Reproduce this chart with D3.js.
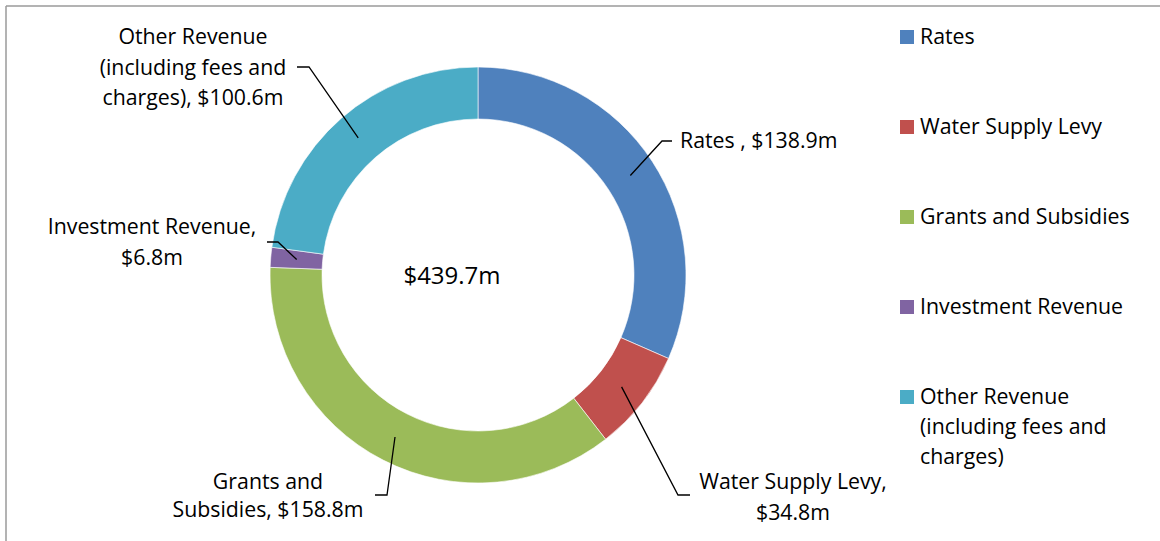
<!DOCTYPE html>
<html><head><meta charset="utf-8">
<script src="https://cdn.jsdelivr.net/npm/d3@7"></script>
<style>
html,body{margin:0;padding:0;background:#fff;}
svg text{font-family:"Open Sans",Lato,sans-serif;fill:#000;}
</style></head>
<body><svg id="c" width="1160" height="541"></svg>
<script>
const categories = ["Rates", "Water Supply Levy", "Grants and Subsidies", "Investment Revenue", "Other Revenue (including fees and charges)"];
const values = [138.9, 34.8, 158.8, 6.8, 100.6];
const colors = ["#4F81BD", "#C0504D", "#9BBB59", "#8064A2", "#4BACC6"];
const sliceLabels = [
  ["Rates , $138.9m"],
  ["Water Supply Levy,", "$34.8m"],
  ["Grants and", "Subsidies, $158.8m"],
  ["Investment Revenue,", "$6.8m"],
  ["Other Revenue", "(including fees and", "charges), $100.6m"]
];
const legendLabels = [["Rates"], ["Water Supply Levy"], ["Grants and Subsidies"], ["Investment Revenue"], ["Other Revenue", "(including fees and", "charges)"]];
const totalLabel = "$439.7m";

const svg = d3.select("#c");
svg.append("line").attr("x1",6).attr("y1",6).attr("x2",1160).attr("y2",6).attr("stroke","#9a9a9a").attr("stroke-width",1.5);
svg.append("line").attr("x1",6).attr("y1",6).attr("x2",6).attr("y2",541).attr("stroke","#9a9a9a").attr("stroke-width",1.5);

const cx = 478, cy = 275, outerR = 208, innerR = 156;
const g = svg.append("g").attr("transform", `translate(${cx},${cy})`);
const pie = d3.pie().sort(null).value(d => d)(values);
const arc = d3.arc().innerRadius(innerR).outerRadius(outerR);
g.selectAll("path").data(pie).join("path")
  .attr("d", arc).attr("fill", (d,i) => colors[i])
  .attr("stroke", "#fff").attr("stroke-width", 0.6);

const labelPos = [
  {tx: 680, ty: 141, anchor: "start", elbow: [662, 141], end: [672, 141]},
  {tx: 793, ty: 482, anchor: "middle", elbow: [678, 495], end: [690, 495]},
  {tx: 268, ty: 482, anchor: "middle", elbow: [387, 495], end: [375, 495]},
  {tx: 152, ty: 227, anchor: "middle", elbow: [278, 242], end: [267, 242]},
  {tx: 193, ty: 37, anchor: "middle", elbow: [309, 67], end: [297, 67]}
];
const lineH = 30.5;
const midArc = d3.arc().innerRadius((innerR+outerR)/2).outerRadius((innerR+outerR)/2);
pie.forEach((d, i) => {
  const c = midArc.centroid(d);
  const p = labelPos[i];
  svg.append("polyline")
    .attr("points", [[cx + c[0], cy + c[1]], p.elbow, p.end].map(q => q.join(",")).join(" "))
    .attr("fill", "none").attr("stroke", "#000").attr("stroke-width", 1.3);
  const t = svg.append("text").attr("text-anchor", p.anchor).attr("font-size", 21.3);
  sliceLabels[i].forEach((s, j) => {
    t.append("tspan").attr("x", p.tx).attr("y", p.ty + j * (i===2 ? 28 : lineH)).attr("dy", "0.35em").text(s);
  });
});

svg.append("text").attr("x", 452).attr("y", 276).attr("dy", "0.35em")
  .attr("text-anchor", "middle").attr("font-size", 24).text(totalLabel);

const legendY = d3.scaleBand().domain(categories).range([22, 472]).paddingInner(0);
categories.forEach((cat, i) => {
  const y0 = legendY(cat) + 15;
  svg.append("rect").attr("x", 900).attr("y", y0 - 7).attr("width", 14).attr("height", 14).attr("fill", colors[i]);
  const t = svg.append("text").attr("font-size", 21.3);
  legendLabels[i].forEach((s, j) => {
    t.append("tspan").attr("x", 920).attr("y", y0 + j * 30).attr("dy", "0.35em").text(s);
  });
});
</script></body></html>
